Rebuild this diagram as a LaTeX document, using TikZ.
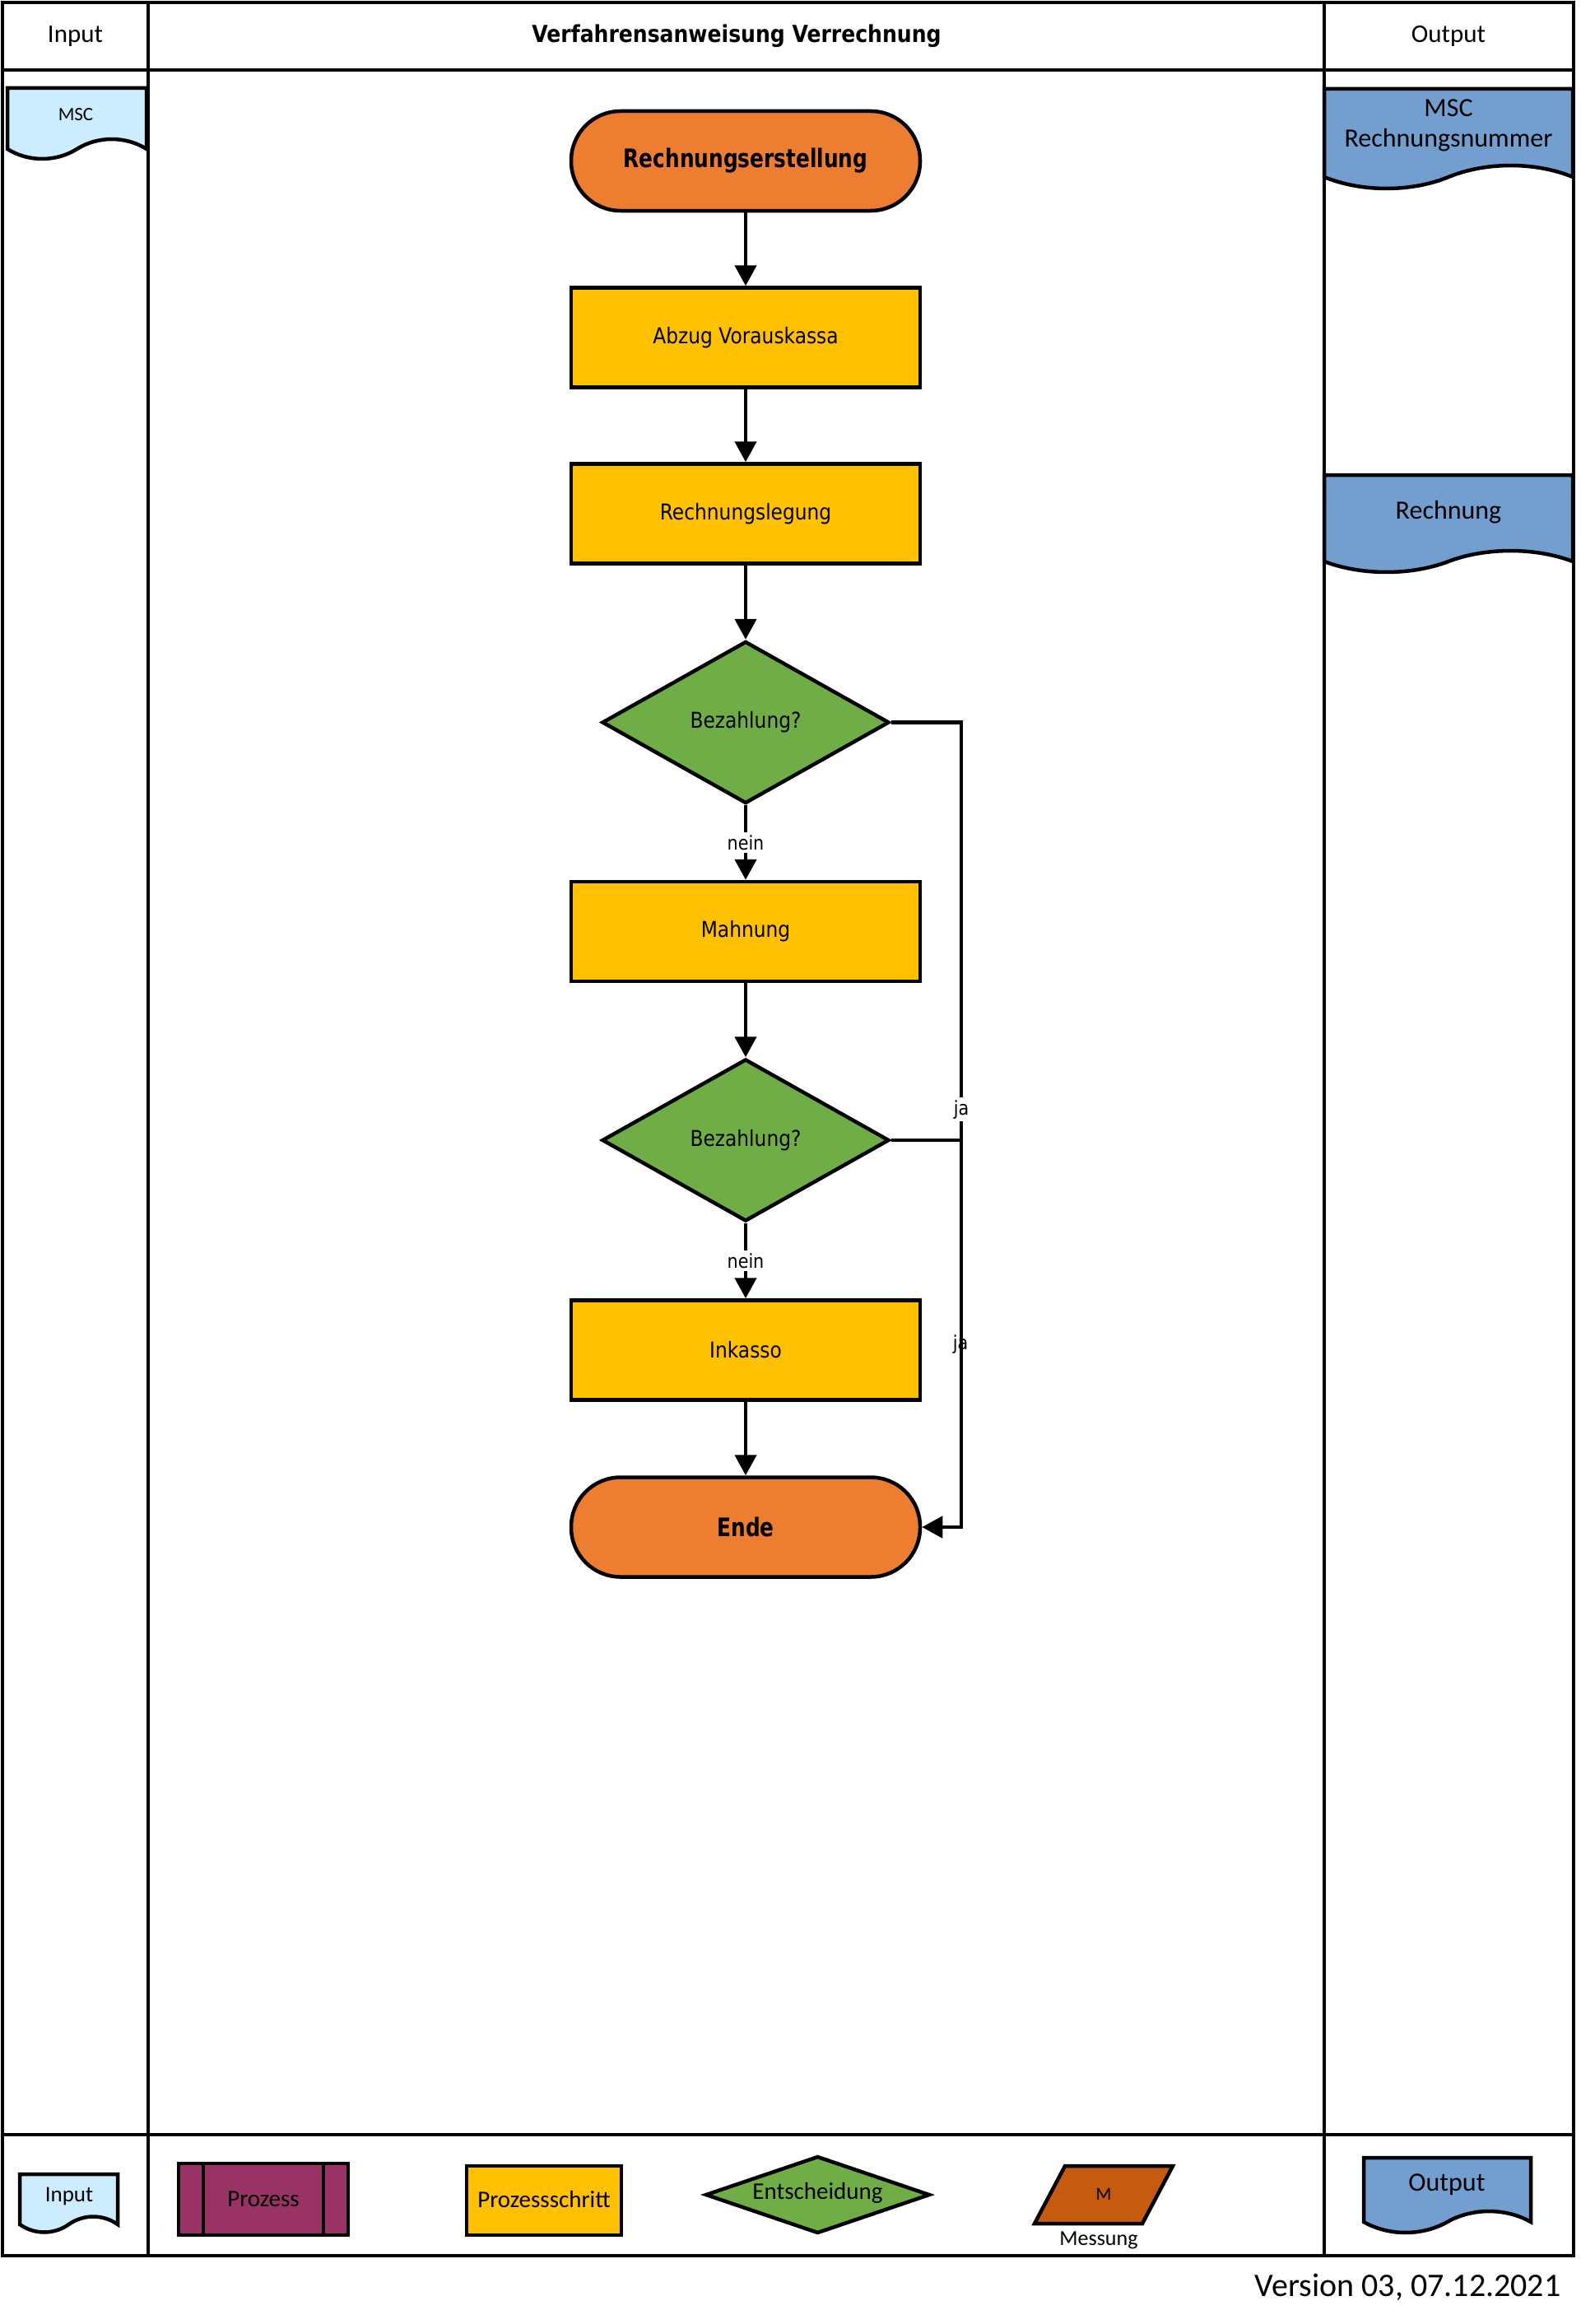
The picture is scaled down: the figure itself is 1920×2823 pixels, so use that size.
\documentclass[tikz,border=0pt]{standalone}
\usepackage{fontspec}
\setmainfont{Carlito}
\newfontfamily\flowfont[FakeStretch=0.88,BoldFeatures={FakeStretch=0.8}]{DejaVu Sans}
\newfontfamily\titlefont[FakeStretch=0.88]{DejaVu Sans}
\usetikzlibrary{arrows.meta,shapes.geometric,calc}
\definecolor{termc}{HTML}{ED7D31}
\definecolor{procc}{HTML}{FFC000}
\definecolor{decc}{HTML}{70AD47}
\definecolor{inc}{HTML}{CCECFF}
\definecolor{outc}{HTML}{729FCF}
\definecolor{prozc}{HTML}{993366}
\definecolor{messc}{HTML}{C55A11}
\newcommand\fsz[2]{\fontsize{#1}{#2}\selectfont}
% #1 style, #2 left, #3 right, #4 top, #5 wave base, #6 amplitude
\newcommand\docshape[6]{%
  \draw[#1] (#2,#4) -- (#3,#4) -- (#3,#5)
    .. controls ({#3-0.15*(#3-#2)},{#5-1.33*#6}) and ({#3-0.35*(#3-#2)},{#5-1.33*#6}) .. ({(#2+#3)/2},#5)
    .. controls ({#2+0.35*(#3-#2)},{#5+1.33*#6}) and ({#2+0.15*(#3-#2)},{#5+1.33*#6}) .. (#2,#5) -- cycle;}
\begin{document}
\begin{tikzpicture}[x=1pt,y=-1pt,
  tbl/.style={line width=4.5pt},
  legline/.style={draw,line width=4.5pt},
  docin/.style={draw,line width=4.5pt,fill=inc},
  docout/.style={draw,line width=4.5pt,fill=outc},
  hdr/.style={font=\fsz{31}{37}},
  term/.style={draw,line width=4.5pt,fill=termc,rounded corners=60pt,minimum width=424pt,minimum height=121pt,font=\flowfont\bfseries\fsz{31}{37}},
  proc/.style={draw,line width=4.5pt,fill=procc,minimum width=424pt,minimum height=121pt,font=\flowfont\fsz{26.5}{32}},
  dec/.style={draw,line width=4.5pt,fill=decc,diamond,aspect=1.75,inner sep=0pt,minimum width=349pt,minimum height=197pt,font=\flowfont\fsz{26.5}{32}},
  arr/.style={line width=4.5pt,-{Triangle[width=26pt,length=25pt]}},
  conn/.style={line width=4.5pt},
  lbl/.style={fill=white,inner sep=3pt,font=\flowfont\fsz{23.5}{28}},
  lblnf/.style={inner sep=3pt,font=\flowfont\fsz{23.5}{28}}
]
\useasboundingbox (0,0) rectangle (1920,2823);

% table frame
\draw[tbl] (3,3) rectangle (1912,2740);
\draw[tbl] (180,3) -- (180,2740);
\draw[tbl] (1609,3) -- (1609,2740);
\draw[tbl] (3,85) -- (1912,85);
\draw[tbl] (3,2593) -- (1912,2593);
\node[hdr] (hin) at (91.5,44) {Input};
\node[font=\titlefont\bfseries\fsz{28.5}{34}] (htitle) at (895,44) {Verfahrensanweisung Verrechnung};
\node[hdr] (hout) at (1760,44) {Output};

% input / output documents
\docshape{docin}{9}{178}{107}{181}{12}
\node[font=\fsz{23}{27}] (msc) at (92,139) {MSC};
\docshape{docout}{1609}{1911}{108}{215}{14}
\node[align=center,font=\fsz{32}{37}] (mscr) at (1760,152) {MSC\\Rechnungsnummer};
\docshape{docout}{1609}{1911}{577}{682}{13}
\node[font=\fsz{32}{37}] (rech) at (1760,622) {Rechnung};

% flow
\node[term] (t1) at (906,195.5) {Rechnungserstellung};
\node[proc] (p1) at (906,410) {Abzug Vorauskassa};
\node[proc] (p2) at (906,624) {Rechnungslegung};
\node[dec] (d1) at (906,877.5) {Bezahlung?};
\node[proc] (p3) at (906,1131.5) {Mahnung};
\node[dec] (d2) at (906,1385) {Bezahlung?};
\node[proc] (p4) at (906,1640) {Inkasso};
\node[term] (t2) at (906,1855) {Ende};

\draw[arr] (t1.south) -- (p1.north);
\draw[arr] (p1.south) -- (p2.north);
\draw[arr] (p2.south) -- (d1.north);
\draw[arr] (d1.south) -- node[lbl] {nein} (p3.north);
\draw[arr] (p3.south) -- (d2.north);
\draw[arr] (d2.south) -- node[lbl] {nein} (p4.north);
\draw[arr] (p4.south) -- (t2.north);
\coordinate (jx) at (1168,877.5);
\draw[arr] (d1.east) -- (jx) -- node[lbl,pos=0.481] {ja} (jx |- t2.east) -- (t2.east);
\draw[conn] (d2.east) -- (d2.east -| jx);
\node[lblnf] (ja2) at (1167,1633) {ja};

% legend
\docshape{docin}{24}{143}{2641}{2702}{9.5}
\node[font=\fsz{27}{32}] (lin) at (84,2668) {Input};
\draw[legline,fill=prozc] (217,2628) rectangle (423,2715);
\draw[legline] (247,2628) -- (247,2715) (393,2628) -- (393,2715);
\node[font=\fsz{29}{34}] (lproz) at (320,2671) {Prozess};
\draw[legline,fill=procc] (567,2631) rectangle (755,2715);
\node[font=\fsz{29}{34}] (lps) at (661,2672) {Prozessschritt};
\draw[legline,fill=decc] (858,2666) -- (993.5,2620) -- (1129,2666) -- (993.5,2712) -- cycle;
\node[font=\fsz{29}{34}] (lent) at (993.5,2664) {Entscheidung};
\draw[legline,fill=messc] (1257,2701) -- (1294,2631) -- (1425,2631) -- (1388,2701) -- cycle;
\node[font=\fsz{22}{26}] (lm) at (1341,2665) {M};
\node[font=\fsz{26}{30}] (lmess) at (1335,2721) {Messung};
\docshape{docout}{1657}{1860}{2621}{2699}{13}
\node[font=\fsz{32}{37}] (lout) at (1758,2654) {Output};
\node[anchor=east,font=\fsz{40}{48}] (ver) at (1900,2778) {Version 03, 07.12.2021};
\end{tikzpicture}
\end{document}
